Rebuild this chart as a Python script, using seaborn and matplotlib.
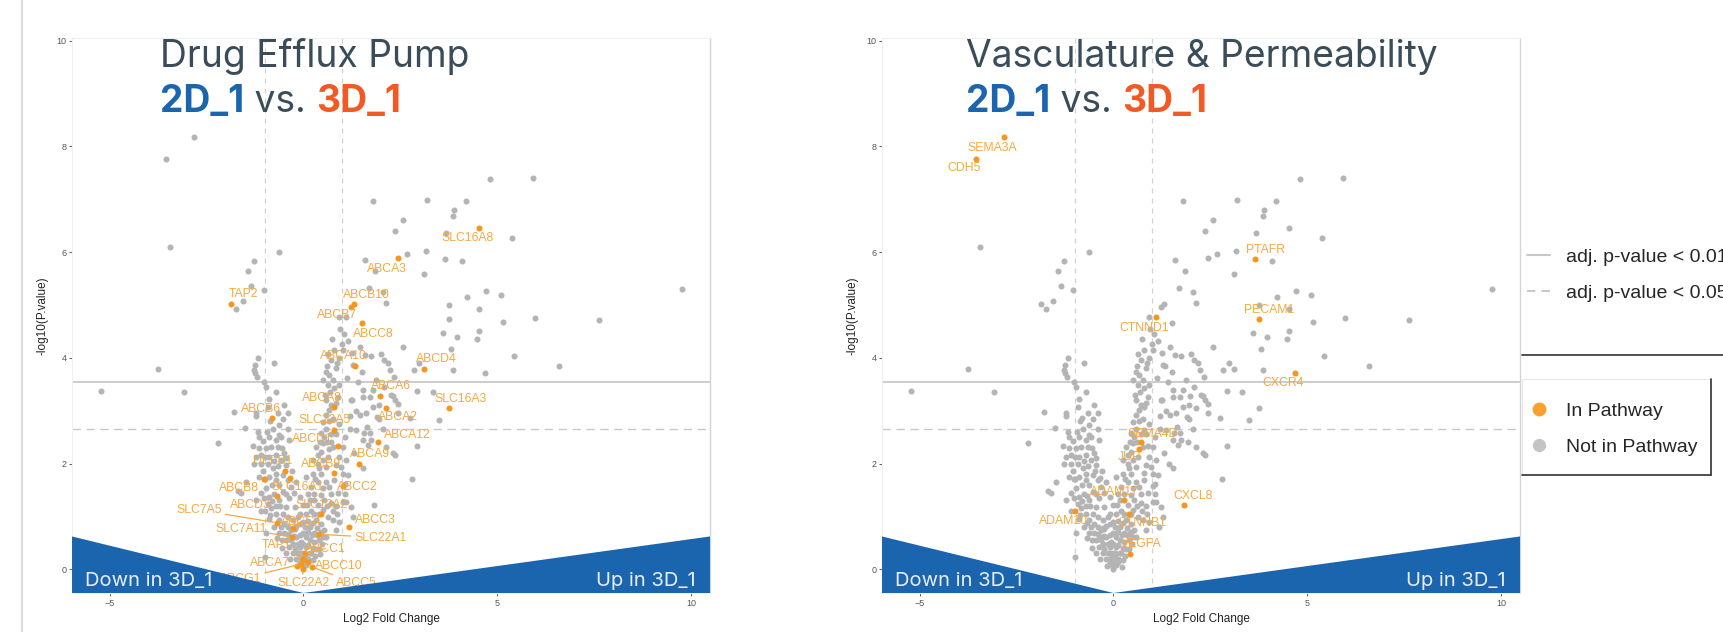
import matplotlib
matplotlib.use("Agg")
import matplotlib.pyplot as plt
import seaborn as sns
import pandas as pd
from matplotlib.lines import Line2D
from matplotlib.patches import Rectangle

# ---- data -------------------------------------------------------------
# Drug efflux pump genes (log2FC, -log10 p)
efflux_genes = ["SLC16A8", "ABCA3", "TAP2", "ABCB10", "ABCB7", "ABCC8", "ABCA10", "ABCD4",
                "ABCA6", "SLC16A3", "ABCA2", "ABCA8", "ABCB6", "SLC22A5", "ABCA12", "ABCD1",
                "ABCA9", "ABCB9", "DEFB1", "SLC16A1", "ABCB8", "ABCD3", "ABCC2", "SLC13A2",
                "SLC7A5", "ABCC4", "ABCC3", "SLC7A11", "SLC22A1", "TAP1", "ABCC1", "ABCA7",
                "ABCC10", "ABCG1", "SLC22A2", "ABCC5"]
efflux_lfc = [4.54, 2.44, -1.87, 1.30, 1.22, 1.51, 1.32, 3.12,
              1.97, 3.75, 2.14, 0.78, -0.80, 0.80, 1.92, 0.89,
              1.43, 0.78, -0.48, -0.34, -1.01, -0.69, 1.02, 0.45,
              -0.69, -0.28, 1.18, -0.29, 0.40, 0.00, 0.05, -0.17,
              0.11, -0.05, -0.02, 0.23]
efflux_logp = [6.46, 5.88, 5.02, 5.02, 4.97, 4.65, 3.85, 3.79,
               3.28, 3.06, 3.06, 3.07, 2.87, 2.63, 2.41, 2.33,
               1.99, 1.82, 1.86, 1.72, 1.70, 1.39, 1.58, 1.05,
               0.88, 0.78, 0.80, 0.61, 0.66, 0.20, 0.30, 0.06,
               0.14, 0.10, 0.00, 0.04]

# Vasculature & permeability genes
vasc_genes = ["SEMA3A", "CDH5", "PTAFR", "PECAM1", "CTNND1", "CXCR4", "SEMA4D", "JUP",
              "ADAM17", "CXCL8", "ADAM10", "CTNNB1", "VEGFA"]
vasc_lfc = [-2.82, -3.55, 3.65, 3.76, 1.09, 4.69, 0.71, 0.67, 0.27, 1.81, -0.99, 0.40, 0.43]
vasc_logp = [8.18, 7.76, 5.87, 4.73, 4.77, 3.72, 2.40, 2.28, 1.31, 1.22, 1.10, 1.05, 0.29]

# all remaining genes (log2FC, -log10 p)
other_points = [
    (-3.44, 6.09), (-0.62, 6.01), (-1.27, 5.83), (-1.44, 5.65), (-1.34, 5.35), (-1.03, 5.28),
    (-1.74, 4.93), (-1.57, 5.07), (0.91, 4.77),
    (1.79, 6.97), (2.37, 6.40), (1.58, 5.85), (1.85, 5.65), (1.68, 5.33), (2.05, 5.24), (2.14, 5.03),
    (4.81, 7.39), (5.93, 7.40), (3.18, 6.98), (4.19, 6.96), (3.88, 6.80), (3.85, 6.68), (2.58, 6.61),
    (5.39, 6.26), (3.69, 6.36), (3.16, 6.03), (2.68, 5.96), (4.09, 5.84), (3.11, 5.59), (4.22, 5.16),
    (4.72, 5.27), (5.09, 5.19), (9.77, 5.30), (5.97, 4.75), (7.63, 4.72), (4.53, 4.92), (3.76, 5.00),
    (5.15, 4.67), (3.60, 4.47), (3.95, 4.40), (4.53, 4.50), (4.48, 4.36), (2.58, 4.20), (3.81, 4.16),
    (5.44, 4.04), (2.98, 3.90), (2.84, 3.77), (3.85, 3.77), (6.60, 3.84), (2.33, 3.64), (2.92, 3.38),
    (3.33, 3.35), (2.32, 3.28), (2.43, 3.13), (2.45, 2.95), (2.75, 2.87), (3.49, 2.82), (2.93, 2.33),
    (2.32, 2.19), (2.37, 2.16), (2.80, 1.71),
    (-3.76, 3.79), (-5.23, 3.37), (-3.09, 3.35), (-2.20, 2.38), (-1.78, 2.97), (-1.51, 2.68),
    (-1.24, 3.86), (-1.26, 3.71), (-1.21, 3.63), (-1.18, 3.99), (-1.27, 3.77), (-0.75, 3.90),
    (-1.68, 1.48), (-1.62, 1.44), (-1.47, 1.65),
    (0.74, 4.35), (1.00, 4.27), (1.15, 4.31), (1.02, 4.15), (0.63, 4.08), (0.91, 3.99), (0.86, 3.90),
    (0.83, 3.80), (1.58, 4.05), (1.75, 4.03), (2.00, 4.08), (2.08, 3.96), (1.27, 3.86), (1.52, 3.74),
    (0.59, 3.74), (0.67, 3.67), (0.50, 3.58), (0.76, 3.58), (0.63, 3.48), (0.80, 3.42), (0.93, 3.48),
    (0.89, 3.26), (0.84, 3.14), (0.59, 3.20), (0.67, 3.01), (0.57, 2.92), (0.76, 2.85), (0.50, 2.79),
    (0.59, 2.66), (0.46, 2.57),
    (1.23, 3.20), (1.53, 3.26), (1.79, 3.07), (1.96, 2.85), (2.27, 3.30), (2.09, 3.45), (2.35, 3.20),
    (1.45, 2.92), (1.19, 2.89), (1.36, 2.63), (1.53, 2.44), (1.75, 2.44), (1.66, 2.35), (1.53, 1.91),
    (1.06, 2.51), (1.02, 2.32), (0.93, 2.13), (0.97, 1.94), (1.02, 1.81), (0.84, 1.97), (0.59, 1.94),
    (0.50, 2.06), (0.46, 2.22), (0.33, 2.32), (0.50, 2.38), (0.37, 2.00), (0.46, 1.81), (0.59, 1.65),
    (0.50, 1.53), (0.37, 1.65), (0.24, 1.81), (1.06, 1.62), (1.06, 1.43), (1.02, 1.28), (1.10, 1.28),
    (0.54, 1.31), (0.71, 1.43), (1.27, 0.99), (0.50, 1.12), (0.63, 0.99), (0.76, 0.93), (0.93, 0.90),
    (0.33, 0.93), (0.16, 0.80), (0.28, 0.68), (0.41, 0.55), (0.33, 0.39), (0.20, 0.30), (0.11, 0.20),
    (0.03, 0.11), (-0.02, 0.04), (-0.10, 0.11), (-0.19, 0.20), (-0.28, 0.30), (-0.36, 0.42), (-0.45, 0.55),
    (-0.49, 0.68), (-0.58, 0.80), (-0.32, 0.74), (-0.19, 0.61), (-0.10, 0.42), (0.07, 0.42), (-0.02, 0.30),
    (0.16, 0.55), (-0.02, 0.68), (-0.10, 0.86), (-0.28, 0.93), (-0.40, 0.99), (-0.53, 1.05), (-0.71, 1.05),
    (-0.84, 1.15), (-0.92, 1.24), (-0.88, 1.37), (-0.75, 1.43), (-0.96, 1.53), (-0.88, 1.75), (-0.71, 1.81),
    (-0.53, 1.78), (-0.40, 1.69), (-0.32, 1.56), (-0.19, 1.65), (-0.62, 1.59), (-0.79, 1.91), (-0.92, 2.00),
    (-1.09, 2.00), (-1.27, 2.00), (-1.22, 2.13), (-1.09, 2.16), (-0.88, 2.13), (-0.71, 2.16), (-0.58, 2.06),
    (-0.45, 1.97), (-0.49, 2.19), (-0.66, 2.32), (-0.84, 2.32), (-0.96, 2.29), (-1.14, 2.51), (-1.31, 2.33),
    (-0.88, 2.51), (-0.62, 2.54), (-0.79, 2.66), (-0.40, 2.66), (-0.58, 2.51), (-0.36, 2.44), (-0.53, 2.85),
    (-0.40, 2.95), (-0.92, 3.07), (-1.22, 2.95), (-1.22, 2.89), (-0.88, 3.23), (-0.71, 3.36), (-0.96, 3.45),
    (-1.01, 3.55), (-1.22, 1.31), (-0.96, 0.68), (-0.98, 0.23), (-0.62, 1.31), (-0.45, 1.18), (-0.53, 1.47),
    (-0.02, 1.21), (0.07, 1.05), (-0.10, 1.05), (0.16, 1.31), (0.37, 1.21), (0.28, 1.05), (0.46, 0.86),
    (0.54, 0.74), (0.84, 0.74), (0.59, 0.61), (0.16, 0.30), (0.24, 0.17), (0.07, 0.08), (-0.02, 0.17),
    (-0.15, 0.30), (-0.23, 0.39), (-0.36, 0.58), (-0.49, 0.86), (-0.62, 0.68), (-0.32, 0.55), (-0.45, 0.30),
    (-0.06, 0.52), (0.07, 0.61), (0.03, 0.80), (-0.40, 0.80), (-0.23, 0.77), (0.41, 0.39), (0.50, 0.61),
    (0.28, 0.52), (-1.18, 2.60), (1.10, 2.06), (1.15, 1.78), (1.23, 1.18), (0.20, 1.56), (0.07, 1.75),
    (0.24, 2.06), (0.37, 2.16), (0.63, 2.13), (0.76, 2.32), (0.54, 2.51), (0.11, 1.43), (-0.10, 1.37),
    (-0.23, 1.18), (-0.36, 1.34), (2.18, 3.90), (2.23, 3.77), (1.53, 3.39), (1.79, 3.39), (1.88, 3.58),
    (1.71, 2.57), (2.14, 2.32), (1.94, 3.11), (1.62, 2.95), (1.89, 2.88), (1.25, 3.21), (1.73, 3.26),
    (1.57, 2.57), (-0.05, 0.22), (0.05, 0.25), (-0.14, 0.48), (0.12, 0.45), (0.25, 0.40), (-0.27, 0.48),
    (-0.40, 0.66), (0.22, 0.65), (0.35, 0.78), (-0.15, 0.98), (0.12, 0.92), (-0.62, 0.93), (-0.70, 1.20),
    (0.62, 1.20), (0.75, 1.10), (0.86, 1.05), (-0.55, 0.56), (0.48, 0.48), (-0.08, 0.64), (0.00, 0.90),
    (-1.15, 1.75), (-1.05, 1.85), (-0.98, 1.70), (-1.10, 1.45), (-1.02, 1.35), (-0.80, 1.60),
    (-0.70, 1.68), (-0.65, 1.95), (-0.75, 2.05), (-1.00, 2.12), (-1.15, 2.30), (-1.05, 2.42),
    (-0.95, 2.60), (-0.70, 2.45), (-0.55, 2.30), (-0.45, 2.10), (-0.30, 1.85), (-0.25, 1.45),
    (-0.45, 1.42), (-0.60, 1.20), (-0.80, 1.30), (-0.90, 0.95), (-0.75, 0.80), (-0.68, 0.60),
    (-0.55, 0.40), (-0.35, 0.20), (-0.85, 2.80), (-0.65, 2.95), (-0.50, 3.10), (-0.62, 2.72),
    (-1.10, 1.10), (-0.85, 1.02),
    (0.55, 3.30), (0.62, 3.85), (0.70, 3.95), (0.78, 4.15), (0.95, 4.55), (1.05, 4.45), (0.68, 3.35),
    (0.72, 3.10), (0.65, 2.80), (0.70, 2.55), (0.62, 2.40), (0.85, 2.55), (0.92, 2.75), (0.42, 2.40),
    (0.40, 1.92), (0.30, 1.70), (0.28, 1.42), (0.45, 1.40), (0.65, 1.55), (0.80, 1.68), (0.90, 1.45),
    (0.70, 1.25), (0.85, 1.20), (0.35, 0.65), (0.45, 0.70), (0.25, 0.88), (0.12, 0.70), (0.15, 0.18),
    (-0.08, 0.30), (0.00, 0.48), (0.30, 0.25), (-0.25, 0.62), (-0.18, 0.82), (0.20, 1.10), (0.10, 1.22),
    (1.30, 2.20), (1.20, 2.65), (1.35, 3.00), (1.40, 3.55), (1.12, 3.62), (1.25, 4.10), (1.45, 4.20),
    (1.65, 2.70), (2.05, 2.65),
]

# thresholds
p01_line = 3.55
p05_line = 2.65
fc_cut = 1.0

# label placement (text position in data units)
efflux_label_pos = {
    "SLC16A8": (4.24, 6.26), "ABCA3": (2.15, 5.69), "TAP2": (-1.55, 5.21), "ABCB10": (1.63, 5.19),
    "ABCB7": (0.86, 4.81), "ABCC8": (1.81, 4.45), "ABCA10": (1.03, 4.03), "ABCD4": (3.43, 3.97),
    "ABCA6": (2.27, 3.47), "SLC16A3": (4.04, 3.23), "ABCA2": (2.44, 2.88), "ABCA8": (0.49, 3.24),
    "ABCB6": (-1.09, 3.04), "SLC22A5": (0.54, 2.83), "ABCA12": (2.69, 2.54), "ABCD1": (0.23, 2.46),
    "ABCA9": (1.72, 2.18), "ABCB9": (0.46, 2.00), "DEFB1": (-0.80, 2.05), "SLC16A1": (-0.14, 1.55),
    "ABCB8": (-1.66, 1.53), "ABCD3": (-1.37, 1.21), "ABCC2": (1.40, 1.55), "SLC13A2": (0.46, 1.21),
    "SLC7A5": (-2.69, 1.12), "ABCC4": (-0.06, 0.90), "ABCC3": (1.86, 0.93), "SLC7A11": (-1.61, 0.77),
    "SLC22A1": (1.98, 0.60), "TAP1": (-0.69, 0.45), "ABCC1": (0.57, 0.39), "ABCA7": (-0.86, 0.12),
    "ABCC10": (0.92, 0.06), "ABCG1": (-1.61, -0.18), "SLC22A2": (0.00, -0.27), "ABCC5": (1.37, -0.27),
}
efflux_segments = ["SLC7A5", "SLC7A11", "SLC22A1", "TAP1", "ABCC1", "ABCA7", "ABCC10",
                   "ABCG1", "SLC22A2", "ABCC5", "ABCC4"]
vasc_label_pos = {
    "SEMA3A": (-3.12, 7.97), "CDH5": (-3.85, 7.59), "PTAFR": (3.93, 6.04), "PECAM1": (4.01, 4.91),
    "CTNND1": (0.80, 4.56), "CXCR4": (4.38, 3.53), "SEMA4D": (1.02, 2.55), "JUP": (0.40, 2.12),
    "ADAM17": (0.03, 1.46), "CXCL8": (2.05, 1.38), "ADAM10": (-1.28, 0.91), "CTNNB1": (0.72, 0.88),
    "VEGFA": (0.72, 0.47),
}

# ---- style --------------------------------------------------------------
GRAY = "#b4b4b4"
ORANGE = "#f7961f"
LABEL_ORANGE = "#f5a940"
BLUE = "#1b64ae"
RED = "#f15a24"
SLATE = "#3b4c59"
LINE = "#c8c8c8"
XLIM = (-5.97, 10.49)
YLIM = (-0.45, 10.05)

sns.set_theme(style="white")
plt.rcParams["font.family"] = ["Liberation Sans", "DejaVu Sans"]

df_other = pd.DataFrame(other_points, columns=["lfc", "logp"])
df_eff = pd.DataFrame({"gene": efflux_genes, "lfc": efflux_lfc, "logp": efflux_logp})
df_vas = pd.DataFrame({"gene": vasc_genes, "lfc": vasc_lfc, "logp": vasc_logp})

fig = plt.figure(figsize=(17.23, 6.32), dpi=100)
ax1 = fig.add_axes([0.0418, 0.0617, 0.3703, 0.878])
ax2 = fig.add_axes([0.5119, 0.0617, 0.3703, 0.878])


def draw_panel(ax, df_bg, df_path, label_pos, segs, title, tx):
    sns.scatterplot(data=df_bg, x="lfc", y="logp", color=GRAY, s=19, linewidth=0,
                    ax=ax, legend=False, zorder=2)
    sns.scatterplot(data=df_path, x="lfc", y="logp", color=ORANGE, s=19, linewidth=0,
                    ax=ax, legend=False, zorder=3)
    ax.axhline(p01_line, color=LINE, lw=1.3, zorder=1)
    ax.axhline(p05_line, color=LINE, lw=1.0, ls=(0, (6, 4)), zorder=1)
    for v in (-fc_cut, fc_cut):
        ax.axvline(v, color="#d2d2d2", lw=0.9, ls=(0, (4, 4)), zorder=1)

    for _, r in df_path.iterrows():
        lx, ly = label_pos[r.gene]
        arrow = None
        if r.gene in segs:
            arrow = dict(arrowstyle="-", color=LABEL_ORANGE, lw=0.9, shrinkA=0, shrinkB=2)
        ax.annotate(r.gene, xy=(r.lfc, r.logp), xytext=(lx, ly), textcoords="data",
                    ha="center", va="center", fontsize=8.8, color=LABEL_ORANGE,
                    arrowprops=arrow, zorder=4)

    ax.set_xlim(*XLIM)
    ax.set_ylim(*YLIM)
    # direction wedges
    ax.fill([XLIM[0], XLIM[0], 0], [YLIM[0], 0.62, YLIM[0]], color=BLUE, lw=0, zorder=5)
    ax.fill([0, XLIM[1], XLIM[1]], [YLIM[0], 0.62, YLIM[0]], color=BLUE, lw=0, zorder=5)
    ax.text(0.02, 0.013, "Down in 3D_1", transform=ax.transAxes, fontsize=14.5,
            family="Inter", color="#e8eef6", ha="left", va="baseline", zorder=6)
    ax.text(0.977, 0.013, "Up in 3D_1", transform=ax.transAxes, fontsize=14.5,
            family="Inter", color="#e8eef6", ha="right", va="baseline", zorder=6)

    fs = 26.8
    ax.text(tx, 0.948, title, transform=ax.transAxes, fontsize=fs, family="Inter",
            color=SLATE, va="baseline", zorder=6)
    t1 = ax.text(tx, 0.867, "2D_1", transform=ax.transAxes, fontsize=fs, family="Inter",
                 fontweight="bold", color=BLUE, va="baseline", zorder=6)
    t2 = ax.annotate(" vs. ", xy=(1, 0), xycoords=t1, fontsize=fs, family="Inter",
                     color=SLATE, va="bottom", zorder=6)
    ax.annotate("3D_1", xy=(1, 0), xycoords=t2, fontsize=fs, family="Inter",
                fontweight="bold", color=RED, va="bottom", zorder=6)

    ax.set_xticks([-5, 0, 5, 10])
    ax.set_yticks([0, 2, 4, 6, 8, 10])
    ax.tick_params(axis="both", length=2.5, width=0.6, color="#444444", labelsize=6.5,
                   labelcolor="#555555", pad=1.5, left=True, bottom=True)
    ax.set_xlabel("Log2 Fold Change", fontsize=8.5, color="#222222", labelpad=4)
    ax.set_ylabel("-log10(P.value)", fontsize=8.5, color="#222222", labelpad=6)
    for side in ("top", "left", "bottom"):
        ax.spines[side].set_color("#f0f0f0")
        ax.spines[side].set_linewidth(0.8)
    ax.spines["right"].set_color("#d4d4d4")
    ax.spines["right"].set_linewidth(1.0)


# genes of the other pathway are plain background in each panel
bg_left = pd.concat([df_other, df_vas[["lfc", "logp"]]], ignore_index=True)
bg_right = pd.concat([df_other, df_eff[["lfc", "logp"]]], ignore_index=True)

draw_panel(ax1, bg_left, df_eff, efflux_label_pos, efflux_segments, "Drug Efflux Pump", 0.138)
draw_panel(ax2, bg_right, df_vas, vasc_label_pos, [], "Vasculature & Permeability", 0.132)

# ---- legends ------------------------------------------------------------
line_handles = [Line2D([], [], color=LINE, lw=1.5),
                Line2D([], [], color=LINE, lw=1.5, ls=(0, (4, 3)))]
fig.legend(line_handles, ["adj. p-value < 0.01", "adj. p-value < 0.05"],
           loc="upper left", bbox_to_anchor=(0.8862, 0.607), frameon=False,
           fontsize=14, handlelength=1.2, handletextpad=0.8, labelspacing=0.95,
           borderpad=0, borderaxespad=0)
dot_handles = [Line2D([], [], ls="", marker="o", markersize=9, color="#f9a12e"),
               Line2D([], [], ls="", marker="o", markersize=8.5, color="#c4c4c4")]
fig.legend(dot_handles, ["In Pathway", "Not in Pathway"],
           loc="upper left", bbox_to_anchor=(0.8877, 0.363), frameon=False,
           fontsize=14, handlelength=1.0, handletextpad=0.88, labelspacing=0.95,
           borderpad=0, borderaxespad=0)

# legend box: faint frame, dark right/bottom edge
bx0, bx1 = 1522 / 1723, 1711 / 1723
by0, by1 = 1 - 475 / 632, 1 - 379 / 632
fig.add_artist(Rectangle((bx0, by0), bx1 - bx0, by1 - by0, transform=fig.transFigure,
                         fill=False, edgecolor="#e8e8e8", lw=0.8))
fig.add_artist(Line2D([bx1, bx1], [by0, by1], transform=fig.transFigure, color="#333333", lw=1.2))
fig.add_artist(Line2D([bx0, bx1], [by0, by0], transform=fig.transFigure, color="#333333", lw=1.2))
fig.add_artist(Line2D([bx0, 1.0], [1 - 355 / 632] * 2, transform=fig.transFigure,
                      color="#333333", lw=1.2))
fig.add_artist(Line2D([22 / 1723] * 2, [0, 1], transform=fig.transFigure,
                      color="#dddddd", lw=1.5))

fig.savefig("out.png", dpi=100)
